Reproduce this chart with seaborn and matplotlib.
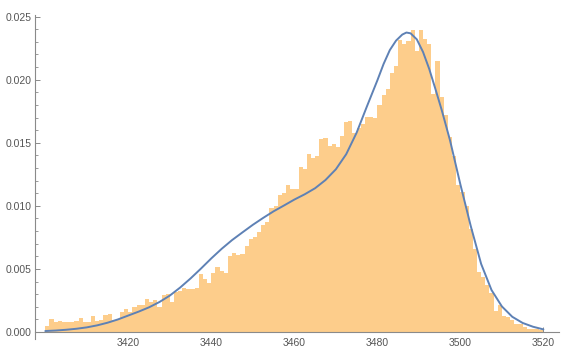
import numpy as np
import pandas as pd
import matplotlib
matplotlib.use("Agg")
import matplotlib.pyplot as plt
import seaborn as sns
from matplotlib.ticker import MultipleLocator, FormatStrFormatter

# =====================
# DATA
# =====================
bin_start = 3400
bin_width = 1
bar_heights = [
    0.00048, 0.00103, 0.00082, 0.00088, 0.00076, 0.00080, 0.00080, 0.00084, 0.00110, 0.00082,  # 3400-3409
    0.00082, 0.00128, 0.00085, 0.00092, 0.00132, 0.00140, 0.00098, 0.00100, 0.00160, 0.00182,  # 3410-3419
    0.00156, 0.00198, 0.00211, 0.00213, 0.00260, 0.00238, 0.00252, 0.00198, 0.00295, 0.00298,  # 3420-3429
    0.00236, 0.00320, 0.00327, 0.00348, 0.00340, 0.00340, 0.00350, 0.00462, 0.00422, 0.00388,  # 3430-3439
    0.00466, 0.00515, 0.00484, 0.00468, 0.00602, 0.00626, 0.00608, 0.00618, 0.00681, 0.00734,  # 3440-3449
    0.00750, 0.00795, 0.00848, 0.00874, 0.00983, 0.00998, 0.01088, 0.01100, 0.01165, 0.01135,  # 3450-3459
    0.01135, 0.01307, 0.01292, 0.01410, 0.01381, 0.01395, 0.01529, 0.01537, 0.01476, 0.01492,  # 3460-3469
    0.01466, 0.01553, 0.01667, 0.01672, 0.01577, 0.01615, 0.01648, 0.01704, 0.01704, 0.01698,  # 3470-3479
    0.01798, 0.01875, 0.01925, 0.02052, 0.02108, 0.02314, 0.02286, 0.02310, 0.02393, 0.02229,  # 3480-3489
    0.02393, 0.02324, 0.02282, 0.01890, 0.02148, 0.01865, 0.01720, 0.01543, 0.01395, 0.01165,  # 3490-3499
    0.01108, 0.00996, 0.00814, 0.00656, 0.00478, 0.00435, 0.00376, 0.00307, 0.00167, 0.00214,  # 3500-3509
    0.00128, 0.00120, 0.00092, 0.00062, 0.00066, 0.00040, 0.00021, 0.00021, 0.00021, 0.00016,  # 3510-3519
]

curve_x = [3400, 3402.5, 3405, 3407.5, 3410, 3412.5, 3415, 3417.5, 3420, 3422.5,
           3425, 3427.5, 3430, 3432.5, 3435, 3437.5, 3440, 3442.5, 3445, 3447.5,
           3450, 3452.5, 3455, 3457.5, 3460, 3462.5, 3465, 3467.5, 3470, 3472.5,
           3475, 3477.5, 3480, 3481.5, 3483, 3484.5, 3486, 3487, 3488, 3489.5,
           3491, 3492.5, 3494, 3495.5, 3497.5, 3500, 3502.5, 3505, 3507.5, 3510,
           3512.5, 3515, 3517.5, 3520]
curve_y = [0.00008, 0.00012, 0.00018, 0.00026, 0.00037, 0.00053, 0.00074, 0.00100, 0.00131, 0.00162,
           0.00196, 0.00238, 0.00289, 0.00353, 0.00425, 0.00503, 0.00584, 0.00660, 0.00729, 0.00790,
           0.00850, 0.00905, 0.00957, 0.01003, 0.01050, 0.01092, 0.01140, 0.01205, 0.01290, 0.01410,
           0.01580, 0.01790, 0.01995, 0.02125, 0.02235, 0.02310, 0.02358, 0.02374, 0.02368, 0.02320,
           0.02220, 0.02085, 0.01925, 0.01760, 0.01520, 0.01170, 0.00840, 0.00540, 0.00333, 0.00203,
           0.00121, 0.00072, 0.00042, 0.00021]

x_major = [3420, 3440, 3460, 3480, 3500, 3520]
y_major = [0.000, 0.005, 0.010, 0.015, 0.020, 0.025]

bar_color = "#FDCD8B"
line_color = "#5E81B5"
axis_color = "#8a8a8a"
label_color = "#555555"

# =====================
# BUILD FRAME
# =====================
n_bins = len(bar_heights)
hist_df = pd.DataFrame({
    "value": bin_start + bin_width * (np.arange(n_bins) + 0.5),
    "density": bar_heights,
})
curve_df = pd.DataFrame({"x": curve_x, "y": curve_y})

# =====================
# PLOT
# =====================
sns.set_style("ticks")
plt.rcParams["font.family"] = ["Liberation Sans", "DejaVu Sans"]

fig = plt.figure(figsize=(5.7, 3.52), dpi=100)
ax = fig.add_axes([0.062, 0.037, 0.919, 0.920])

sns.histplot(
    data=hist_df, x="value", weights="density",
    bins=n_bins, binrange=(bin_start, bin_start + n_bins * bin_width),
    stat="count", color=bar_color, alpha=1, linewidth=0, ax=ax,
)
sns.lineplot(data=curve_df, x="x", y="y", color=line_color, linewidth=1.4, ax=ax)

ax.set_xlim(3397.6, 3523.8)
ax.set_ylim(-0.00055, 0.02512)
ax.set_xlabel("")
ax.set_ylabel("")

# Mathematica-like axes crossing at y = 0
sns.despine(ax=ax, top=True, right=True)
ax.spines["bottom"].set_position(("data", 0))
for side in ["left", "bottom"]:
    ax.spines[side].set_color(axis_color)
    ax.spines[side].set_linewidth(0.8)

ax.set_xticks(x_major)
ax.xaxis.set_minor_locator(MultipleLocator(5))
ax.set_yticks(y_major)
ax.yaxis.set_minor_locator(MultipleLocator(0.001))
ax.yaxis.set_major_formatter(FormatStrFormatter("%.3f"))

ax.tick_params(axis="both", which="major", direction="in", length=3.5, width=0.7,
               color=axis_color, labelcolor=label_color, labelsize=7.5)
ax.tick_params(axis="both", which="minor", direction="in", length=2, width=0.6,
               color=axis_color)
ax.tick_params(axis="x", which="major", pad=4.5)
ax.tick_params(axis="y", which="major", pad=2.5)

plt.savefig("out.png", dpi=100)
plt.close()
